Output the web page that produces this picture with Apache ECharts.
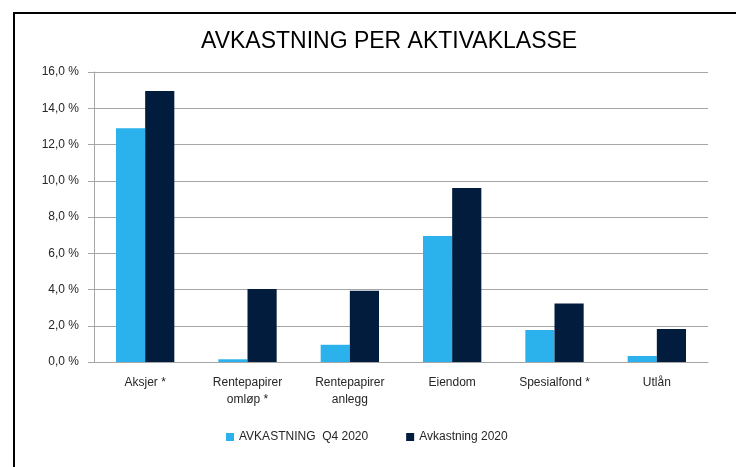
<!DOCTYPE html>
<html>
<head>
<meta charset="utf-8">
<script src="https://cdn.jsdelivr.net/npm/echarts@6/dist/echarts.min.js"></script>
<style>
  html, body { margin: 0; padding: 0; background: #fff; }
  #chart { width: 736px; height: 467px; }
</style>
</head>
<body>
<div id="chart"></div>
<script>
// kategorier og verdier
var categories = ['Aksjer *', 'Rentepapirer\nomløp *', 'Rentepapirer\nanlegg', 'Eiendom', 'Spesialfond *', 'Utlån'];
var q4Values = [12.9, 0.15, 0.95, 6.95, 1.77, 0.33];
var yearValues = [14.95, 4.03, 3.93, 9.6, 3.23, 1.82];
var seriesNames = ['AVKASTNING  Q4 2020', 'Avkastning 2020'];

var chart = echarts.init(document.getElementById('chart'));

var option = {
    animation: false,
    backgroundColor: '#fff',
    title: {
        text: 'AVKASTNING PER AKTIVAKLASSE',
        left: 196,
        top: 25,
        textStyle: {
            fontFamily: 'Liberation Sans',
            fontSize: 23,
            fontWeight: 'normal',
            color: '#000'
        }
    },
    graphic: [{
        type: 'rect',
        shape: { x: 14, y: 13, width: 760, height: 480 },
        style: { fill: 'none', stroke: '#000', lineWidth: 2 },
        silent: true
    }],
    legend: {
        bottom: 19,
        left: 221,
        itemWidth: 8,
        itemHeight: 8,
        itemGap: 38,
        icon: 'rect',
        textStyle: { fontFamily: 'Liberation Sans', fontSize: 12, color: '#262626' },
        data: seriesNames
    },
    grid: { left: 94, right: 28, top: 72, bottom: 105 },
    xAxis: {
        type: 'category',
        data: categories,
        axisLine: { lineStyle: { color: '#a6a6a6' } },
        axisTick: { show: false },
        axisLabel: {
            margin: 12,
            interval: 0,
            fontFamily: 'Liberation Sans',
            fontSize: 12,
            lineHeight: 17,
            color: '#262626'
        }
    },
    yAxis: {
        type: 'value',
        min: 0,
        max: 16,
        interval: 2,
        axisLine: { show: true, lineStyle: { color: '#a6a6a6' } },
        axisTick: { show: true, length: 6, lineStyle: { color: '#a6a6a6' } },
        splitLine: { lineStyle: { color: '#a6a6a6' } },
        axisLabel: {
            margin: 15,
            fontFamily: 'Liberation Sans',
            fontSize: 12,
            color: '#262626',
            formatter: function (v) {
                return v.toFixed(1).replace('.', ',') + ' %';
            }
        }
    },
    series: [
        {
            name: seriesNames[0],
            type: 'bar',
            data: q4Values,
            barGap: '0%',
            barCategoryGap: '43%',
            itemStyle: { color: '#2bb1ec' }
        },
        {
            name: seriesNames[1],
            type: 'bar',
            data: yearValues,
            barGap: '0%',
            barCategoryGap: '43%',
            itemStyle: { color: '#011c3d' }
        }
    ]
};

chart.setOption(option);
</script>
</body>
</html>
